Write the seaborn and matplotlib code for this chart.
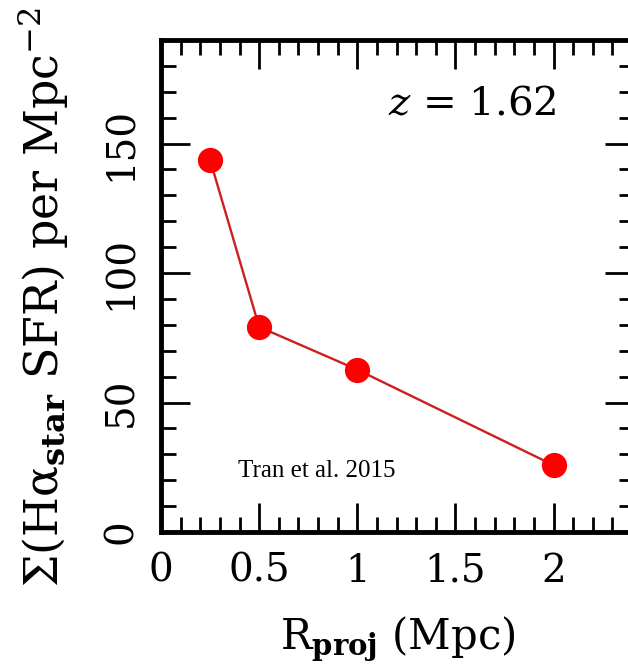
import matplotlib
matplotlib.use("Agg")
import matplotlib.pyplot as plt
from matplotlib.ticker import MultipleLocator
import seaborn as sns
import pandas as pd

# Projected radius bins (Mpc) and H-alpha SFR surface density
r_proj = [0.25, 0.5, 1.0, 2.0]
sfr_density = [143.7, 79.2, 62.7, 25.8]
x_ticks = [0, 0.5, 1, 1.5, 2]
x_tick_labels = ["0", "0.5", "1", "1.5", "2"]
y_ticks = [0, 50, 100, 150]
y_tick_labels = ["0", "50", "100", "150"]
redshift_label = r"$z$ = 1.62"
source_label = "Tran et al. 2015"

df = pd.DataFrame({"r": r_proj, "sfr": sfr_density})

sns.set_theme(style="ticks")
plt.rcParams["font.family"] = ["DejaVu Serif"]
plt.rcParams["mathtext.fontset"] = "dejavuserif"
plt.rcParams["text.color"] = "black"
plt.rcParams["axes.labelcolor"] = "black"

fig = plt.figure(figsize=(6.28, 6.68), dpi=100)
ax = fig.add_axes([0.2564, 0.2036, 0.7532, 0.7365])

sns.lineplot(data=df, x="r", y="sfr", color="#cc1f1f", linewidth=1.7, ax=ax, zorder=2)
sns.scatterplot(data=df, x="r", y="sfr", color="#ff0000", s=330, linewidth=0, ax=ax, zorder=3)

ax.set_xlim(0, 2.41)
ax.set_ylim(0, 190)

ax.set_xticks(x_ticks)
ax.set_xticklabels(x_tick_labels)
ax.set_yticks(y_ticks)
ax.set_yticklabels(y_tick_labels)
ax.xaxis.set_minor_locator(MultipleLocator(0.1))
ax.yaxis.set_minor_locator(MultipleLocator(10))

ax.tick_params(which="both", direction="in", top=True, right=True,
               color="black", labelcolor="black")
ax.tick_params(which="major", length=21, width=2.0, labelsize=28, pad=15)
ax.tick_params(which="minor", length=10.5, width=2.0)
plt.setp(ax.get_yticklabels(), rotation=90, va="center")

for spine in ax.spines.values():
    spine.set_linewidth(3.5)
    spine.set_color("black")

ax.set_xlabel(r"R$_{\mathbf{proj}}$ (Mpc)", fontsize=30, labelpad=18)
ax.set_ylabel(r"$\Sigma$(H$\mathrm{\alpha}_{\mathbf{star}}$ SFR) per Mpc$^{-2}$",
              fontsize=33)
ax.yaxis.set_label_coords(-0.19, 0.478)

ax.text(0.48, 0.8476, redshift_label, transform=ax.transAxes, fontsize=29,
        ha="left", va="baseline", color="black")
ax.text(0.163, 0.112, source_label, transform=ax.transAxes, fontsize=18,
        family="Liberation Serif", ha="left", va="baseline", color="black")

fig.savefig("out.png", dpi=100)
